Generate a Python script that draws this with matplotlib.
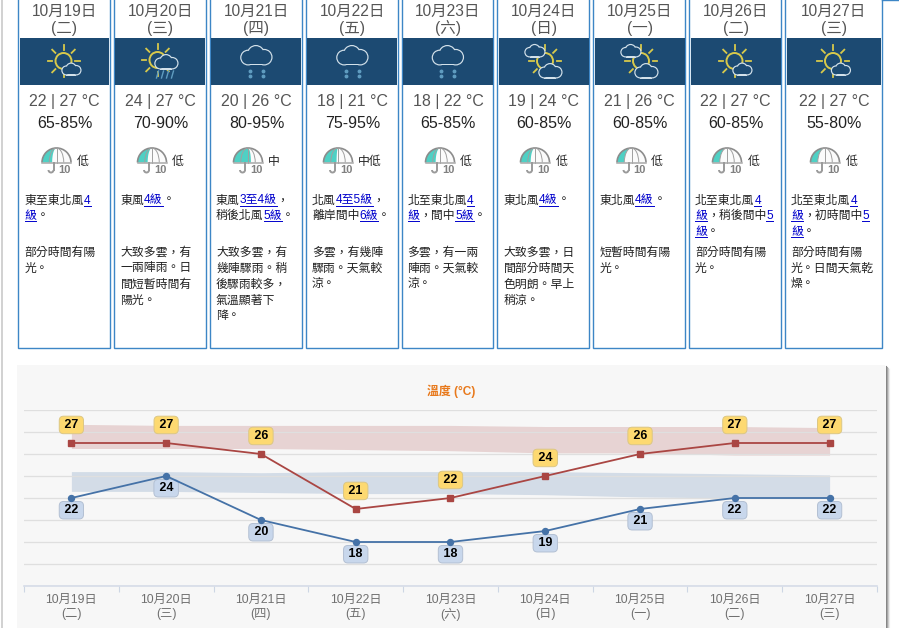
import re
import numpy as np
import matplotlib
matplotlib.use('Agg')
import matplotlib.pyplot as plt
from matplotlib.patches import Rectangle, Circle, Wedge, Arc

plt.rcParams['font.family'] = ['Liberation Sans', 'Noto Sans CJK TC', 'DejaVu Sans']

# forecast data
dates = ['10月19日', '10月20日', '10月21日', '10月22日', '10月23日', '10月24日', '10月25日', '10月26日', '10月27日']
weekdays = ['(二)', '(三)', '(四)', '(五)', '(六)', '(日)', '(一)', '(二)', '(三)']
temp_min = [22, 24, 20, 18, 18, 19, 21, 22, 22]
temp_max = [27, 27, 26, 21, 22, 24, 26, 27, 27]
humidity = ['65-85%', '70-90%', '80-95%', '75-95%', '65-85%', '60-85%', '60-85%', '60-85%', '55-80%']
rain_level = ['低', '低', '中', '中低', '低', '低', '低', '低', '低']
rain_share = [0.35, 0.35, 0.6, 0.45, 0.35, 0.35, 0.25, 0.25, 0.25]
icons = ['sun_cloud', 'sun_rain', 'rain', 'rain', 'rain', 'cloud_sun', 'cloud_sun', 'sun_cloud', 'sun_cloud']

# [] marks the blue link parts
wind = [
    ['東至東北風[4]', '[級]。'],
    ['東風[4級]。'],
    ['東風[3至4級]，', '稍後北風[5級]。'],
    ['北風[4至5級]，', '離岸間中[6級]。'],
    ['北至東北風[4]', '[級]，間中[5級]。'],
    ['東北風[4級]。'],
    ['東北風[4級]。'],
    ['北至東北風[4]', '[級]，稍後間中[5]', '[級]。'],
    ['北至東北風[4]', '[級]，初時間中[5]', '[級]。'],
]
details = [
    ['部分時間有陽', '光。'],
    ['大致多雲，有', '一兩陣雨。日', '間短暫時間有', '陽光。'],
    ['大致多雲，有', '幾陣驟雨。稍', '後驟雨較多，', '氣溫顯著下', '降。'],
    ['多雲，有幾陣', '驟雨。天氣較', '涼。'],
    ['多雲，有一兩', '陣雨。天氣較', '涼。'],
    ['大致多雲，日', '間部分時間天', '色明朗。早上', '稍涼。'],
    ['短暫時間有陽', '光。'],
    ['部分時間有陽', '光。'],
    ['部分時間有陽', '光。日間天氣乾', '燥。'],
]

# climate bands behind the lines
max_band_low = [26.5, 26.5, 26.5, 26.4, 26.3, 26.1, 26.1, 25.9, 25.9]
max_band_high = [28.7, 28.6, 28.6, 28.6, 28.6, 28.5, 28.5, 28.5, 28.4]
min_band_low = [22.6, 22.6, 22.5, 22.4, 22.4, 22.3, 22.1, 22.0, 22.0]
min_band_high = [24.4, 24.4, 24.3, 24.4, 24.4, 24.4, 24.3, 24.2, 24.1]

# card layout in pixels
card_left = [18, 114, 210, 306, 402, 497, 593, 689, 785]
card_right = [110, 206, 302, 398, 493, 589, 685, 781, 882]
band_left = [20, 115, 211, 307, 403, 499, 595, 691, 787]
band_right = [109, 205, 301, 397, 493, 589, 685, 781, 881]
text_left = [24.5, 120.5, 216, 312, 407.5, 503.5, 599.5, 695, 791]
umbrella_x = [56.5, 152, 248, 338, 440, 535, 631.5, 727, 825]
level_x = [82.5, 178, 273.5, 370, 465.5, 561.5, 656.5, 753.5, 851.5]

NAVY = '#1c4a72'
CLOUD = '#d3e1ea'
SUN = '#d8c94b'
RAIN = '#5f9cc0'

fig = plt.figure(figsize=(8.99, 6.28), dpi=100)
bg = fig.add_axes([0, 0, 1, 1], zorder=0)
bg.set_xlim(0, 899)
bg.set_ylim(628, 0)
bg.axis('off')


def cloud(cx, base, w):
    # outlined union of three circles and a rounded base
    r = w * 0.24
    parts = [(cx - w * 0.27, base - r, r), (cx + w * 0.25, base - r * 1.05, r * 1.05), (cx - w * 0.02, base - w * 0.36, w * 0.27)]
    for x, y, rad in parts:
        bg.add_patch(Circle((x, y), rad + 0.5, fc=CLOUD, ec='none', zorder=3))
    bg.add_patch(Rectangle((cx - w * 0.27, base - r), w * 0.52, r + 0.5, fc=CLOUD, ec='none', zorder=3))
    for x, y, rad in parts:
        bg.add_patch(Circle((x, y), rad - 0.7, fc=NAVY, ec='none', zorder=4))
    bg.add_patch(Rectangle((cx - w * 0.27, base - r * 1.4), w * 0.52, r * 1.4 - 0.7, fc=NAVY, ec='none', zorder=4))


def sun(cx, cy, r):
    bg.add_patch(Circle((cx, cy), r, fc='none', ec=SUN, lw=1.4, zorder=2))
    for a in np.radians(np.arange(0, 360, 45)):
        bg.plot([cx + (r + 3.5) * np.cos(a), cx + (r + 8) * np.cos(a)],
                [cy + (r + 3.5) * np.sin(a), cy + (r + 8) * np.sin(a)], color=SUN, lw=1.3, zorder=2)


def draw_icon(kind, c):
    if kind == 'sun_cloud':
        sun(c - 1, 61, 8)
        cloud(c + 7, 75, 19)
    elif kind == 'sun_rain':
        sun(c - 3, 60, 8)
        cloud(c + 6, 69, 23)
        for dx in [-3, 2, 7, 12]:
            bg.plot([c + dx - 1, c + dx + 1], [78, 71], color=RAIN, lw=1, zorder=5)
    elif kind == 'rain':
        cloud(c, 65, 31)
        for dx in [-7, 6]:
            for y in [71, 76]:
                bg.plot(c + dx, y, 'o', ms=1.8, color=RAIN, zorder=5)
    else:
        sun(c + 1.5, 61, 8)
        cloud(c - 8.5, 57, 20)
        cloud(c + 7, 78, 23)


def draw_umbrella(cx, share):
    top = 148
    r = 14.5
    cy = top + r
    bg.add_patch(Wedge((cx, cy), r, 180, 360, fc='#fbfbfb', ec='none', zorder=2))
    # teal part runs from the left edge to one curved rib
    k = 2 * share - 1
    t1 = np.radians(np.linspace(180, 90, 30))
    t2 = np.radians(np.linspace(90, 0, 30))
    xs = np.r_[cx + r * np.cos(t1), cx + k * r * np.cos(t2)]
    ys = np.r_[cy - r * np.sin(t1), cy - r * np.sin(t2)]
    bg.fill(xs, ys, color='#4fd0c4', lw=0, zorder=3)
    bg.add_patch(Arc((cx, cy), 2 * r, 2 * r, theta1=180, theta2=360, color='#8c8c8c', lw=1.2, zorder=4))
    bg.add_patch(Arc((cx, cy), r, 2 * r, theta1=180, theta2=360, color='#a0a0a0', lw=0.7, zorder=4))
    bg.plot([cx, cx], [top, cy], color='#a0a0a0', lw=0.7, zorder=4)
    bg.plot([cx - r, cx + r], [cy, cy], color='#a8a8a8', lw=1.1, zorder=4)
    bg.plot([cx - 3, cx - 3], [cy, 170], color='#9a9a9a', lw=1.4, zorder=4)
    bg.add_patch(Arc((cx - 5.5, 170), 5, 5, theta1=0, theta2=180, color='#9a9a9a', lw=1.4, zorder=4))
    bg.text(cx + 8, 173, '10', ha='center', va='baseline', fontsize=8, fontweight='bold', color='#808080', zorder=5)


def draw_runs(line, x, base):
    # text with blue underlined links, placed run after run
    renderer = fig.canvas.get_renderer()
    for part in re.split(r'(\[[^\]]*\])', line):
        if not part:
            continue
        link = part.startswith('[')
        s = part.strip('[]')
        t = bg.text(x, base, s, fontsize=8.55, va='baseline', ha='left', color='#0000cc' if link else '#222222', zorder=5)
        w = t.get_window_extent(renderer).width
        if link:
            bg.plot([x, x + w], [base + 2, base + 2], color='#0000cc', lw=0.7, zorder=5)
        x += w


# left edge of the page and the line at the very top right
bg.plot([1.5, 1.5], [0, 628], color='#c9c9c9', lw=1.2)
bg.plot([882, 899], [0.3, 0.3], color='#3d86c6', lw=1)

for i in range(9):
    bg.add_patch(Rectangle((card_left[i], -3), card_right[i] - card_left[i], 351, fc='white', ec='#3d86c6', lw=1))
    bg.add_patch(Rectangle((band_left[i], 38), band_right[i] - band_left[i], 47, fc=NAVY, ec='none', zorder=1))
    mid = (card_left[i] + card_right[i]) / 2 + 0.5
    bg.text(mid, 15.5, dates[i], ha='center', va='baseline', fontsize=11.2, color='#555555')
    bg.text(mid, 33, weekdays[i], ha='center', va='baseline', fontsize=11.2, color='#555555')
    draw_icon(icons[i], mid)
    bg.text(mid, 106, f'{temp_min[i]} | {temp_max[i]} °C', ha='center', va='baseline', fontsize=11.5, color='#555555')
    bg.text(mid, 128, humidity[i], ha='center', va='baseline', fontsize=11.5, color='#222222')
    draw_umbrella(umbrella_x[i], rain_share[i])
    bg.text(level_x[i], 162, rain_level[i], ha='center', va='center', fontsize=8.55, color='#222222')
    for n, line in enumerate(wind[i]):
        draw_runs(line, text_left[i], 203.5 + n * 15.5)
    for n, line in enumerate(details[i]):
        draw_runs(line, text_left[i], 255.5 + n * 16)

# chart panel with its shadow
for n, c in enumerate(['#858585', '#a5a5a5', '#cbcbcb', '#ececec']):
    bg.plot([885.5 + n, 885.5 + n], [366 + n, 628], color=c, lw=0.8)
bg.add_patch(Rectangle((17, 365), 868, 270, fc='#f7f7f7', ec='none', zorder=1))
bg.text(451, 395, '溫度 (°C)', ha='center', va='baseline', fontsize=8.6, fontweight='bold', color='#e8791c', zorder=2)

# temperature chart
ax = fig.add_axes([24 / 899, (628 - 586) / 628, 853 / 899, 176 / 628], zorder=1)
ax.patch.set_visible(False)
x = np.arange(len(dates))
ax.set_xlim(-0.5, 8.5)
ax.set_ylim(14, 30)
ax.set_yticks(np.arange(14, 31, 2))
ax.tick_params(axis='y', length=0, labelleft=False)
ax.grid(axis='y', color='#dfdfdf', lw=0.9, zorder=0)
ax.set_xticks(x)
ax.set_xticklabels([d + '\n' + w for d, w in zip(dates, weekdays)], fontsize=8.8, color='#707070', linespacing=1.25)
ax.set_xticks(np.arange(-0.5, 9), minor=True)
ax.tick_params(axis='x', which='major', length=0, pad=5.5)
ax.tick_params(axis='x', which='minor', length=4.3, color='#cdd6e4', width=0.8)
for s in ['top', 'left', 'right']:
    ax.spines[s].set_visible(False)
ax.spines['bottom'].set_color('#d6dce8')
ax.spines['bottom'].set_linewidth(1.2)

ax.fill_between(x, max_band_low, max_band_high, color='#aa4643', alpha=0.2, lw=0, zorder=1)
ax.fill_between(x, min_band_low, min_band_high, color='#4572a7', alpha=0.2, lw=0, zorder=1)
ax.plot(x, temp_max, color='#aa4643', lw=1.3, marker='s', ms=4.4, zorder=6)
ax.plot(x, temp_min, color='#4572a7', lw=1.3, marker='o', ms=4.3, zorder=6)

for i in x:
    ax.annotate(f'\u2009{temp_max[i]}\u2009', (i, temp_max[i]), xytext=(0, 13), textcoords='offset points',
                ha='center', va='center', fontsize=9, fontweight='bold', color='black', zorder=5,
                bbox=dict(boxstyle='round,pad=0.22,rounding_size=0.35', fc='#fdd971', ec='#dcc784', lw=0.7))
    ax.annotate(f'\u2009{temp_min[i]}\u2009', (i, temp_min[i]), xytext=(0, -8.8), textcoords='offset points',
                ha='center', va='center', fontsize=9, fontweight='bold', color='black', zorder=5,
                bbox=dict(boxstyle='round,pad=0.22,rounding_size=0.35', fc='#c8d7ec', ec='#b3c0d3', lw=0.7))

fig.savefig('out.png', dpi=100)
